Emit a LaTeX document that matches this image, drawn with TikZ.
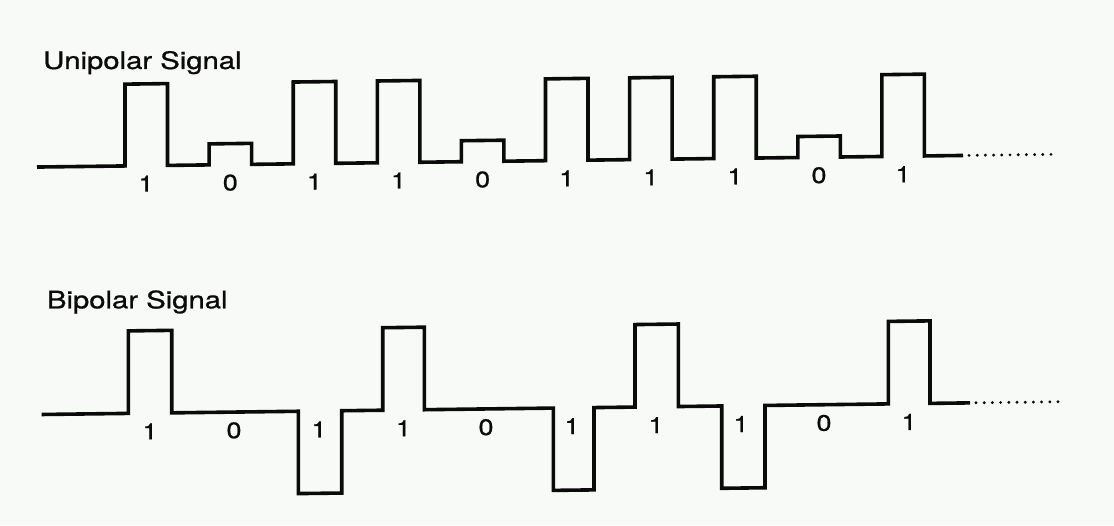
\documentclass[tikz,border=0pt]{standalone}
\usepackage{fontspec}
\setmainfont{TeX Gyre Heros}
\newfontfamily\scanfont[FakeBold=0.8]{TeX Gyre Heros}
\definecolor{bg}{RGB}{247,250,247}
\definecolor{ink}{RGB}{10,10,10}
\begin{document}
\begin{tikzpicture}[x=1pt,y=-1pt,
  sig/.style={draw=ink,line width=3.6pt,line join=miter},
  dotline/.style={draw=ink,line width=3.2pt,line cap=round,dash pattern=on 0pt off 8.2pt},
  bit/.style={font=\scanfont\fontsize{22.5}{22.5}\selectfont,text=ink,xscale=1.2,inner sep=0pt},
  ttl/.style={font=\scanfont\fontsize{24}{24}\selectfont,text=ink,xscale=1.22,inner sep=0pt,anchor=base west}]
\fill[bg] (0,0) rectangle (1114,525);
\useasboundingbox (0,0) rectangle (1114,525);
\begin{scope}[yslant=0.0125]
% titles
\node[ttl] (unititle) at (43,69.5) {Unipolar Signal};
\node[ttl] (biptitle) at (46.7,308.9) {Bipolar Signal};
% unipolar signal
\draw[sig] (37,167.5) -- (125,167.5) -- (125,85.7) -- (167.5,85.7) -- (167.5,167.5)
  -- (209.1,167.5) -- (209.1,146.5) -- (251.6,146.5) -- (251.6,167.5)
  -- (293.2,167.5) -- (293.2,85.7) -- (335.7,85.7) -- (335.7,167.5)
  -- (377.3,167.5) -- (377.3,85.7) -- (419.8,85.7) -- (419.8,167.5)
  -- (461.4,167.5) -- (461.4,146.5) -- (503.9,146.5) -- (503.9,167.5)
  -- (545.5,167.5) -- (545.5,85.7) -- (588.0,85.7) -- (588.0,167.5)
  -- (629.6,167.5) -- (629.6,85.7) -- (672.1,85.7) -- (672.1,167.5)
  -- (713.7,167.5) -- (713.7,85.7) -- (756.2,85.7) -- (756.2,167.5)
  -- (797.8,167.5) -- (797.8,146.5) -- (840.3,146.5) -- (840.3,167.5)
  -- (881.9,167.5) -- (881.9,85.7) -- (924.4,85.7) -- (924.4,167.5)
  -- (963,167.5) coordinate (uend);
\coordinate (udots) at (1053,167.5);
\draw[dotline] (uend) ++(6,0) -- (udots);
\foreach \x/\b [count=\i] in {146/1,230.3/0,314.4/1,398.5/1,482.6/0,566.7/1,650.8/1,734.9/1,819/0,903/1}
  \node[bit] (u\i) at (\x,185.5) {\b};
% bipolar signal
\draw[sig] (41.7,415) -- (128.3,415) -- (128.3,332.5) -- (171.7,332.5) -- (171.7,415)
  -- (298.3,415) -- (298.3,497.3) -- (341.7,497.3) -- (341.7,415)
  -- (382.7,415) -- (382.7,332.5) -- (424.3,332.5) -- (424.3,415)
  -- (553.3,415) -- (553.3,497.3) -- (594,497.3) -- (594,415)
  -- (635,415) -- (635,332.5) -- (678.3,332.5) -- (678.3,415)
  -- (721.7,415) -- (721.7,497.3) -- (765,497.3) -- (765,415)
  -- (888.3,415) -- (888.3,332.5) -- (930,332.5) -- (930,415)
  -- (970,415) coordinate (bend);
\coordinate (bdots) at (1060,415);
\draw[dotline] (bend) ++(6,0) -- (bdots);
\foreach \x/\b [count=\i] in {150/1,234/0,319/1,403.5/1,486/0,572/1,656/1,741/1,824/0,909/1}
  \node[bit] (b\i) at (\x,433.3) {\b};
\end{scope}
\end{tikzpicture}
\end{document}
